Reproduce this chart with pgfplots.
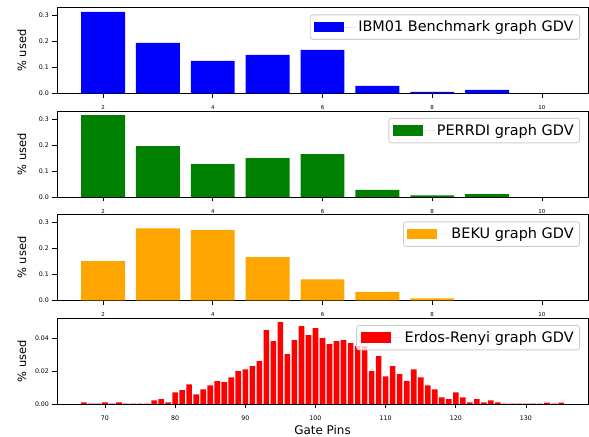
\documentclass[border=0pt]{standalone}
\usepackage{fontspec}
\setmainfont{DejaVu Sans}
\usepackage{pgfplots}
\pgfplotsset{compat=1.18}
\definecolor{mplorange}{HTML}{FFA500}
\definecolor{mplgreen}{HTML}{008000}
\pgfplotsset{
  panel/.style={
    scale only axis, width=531bp, height=86bp,
    anchor=south west,
    axis line style={line width=0.8bp},
    tick align=outside, xtick pos=bottom, ytick pos=left,
    major tick length=4.5bp,
    every tick/.style={line width=0.8bp, black},
    ymin=0,
    scaled y ticks=false, scaled x ticks=false,
    /pgf/number format/assume math mode=true,
    ylabel={\% used},
    ylabel style={at={(axis description cs:-0.066,0.5)}, anchor=center, rotate=0, font=\fontsize{11.5}{12}\selectfont},
    yticklabel style={font=\fontsize{6.3}{7}\selectfont},
    legend style={at={(1,1)}, anchor=north east, xshift=-8bp, yshift=-7bp,
      draw=black!20, line width=0.8bp, rounded corners=2.5bp, fill=white,
      fill opacity=0.8, text opacity=1, font=\fontsize{14.5}{16}\selectfont,
      inner xsep=4bp, inner ysep=4bp, nodes={inner sep=2bp}},
    legend cell align=left,
    legend image code/.code={\path[#1, fill opacity=1, sharp corners] (0bp,-5.2bp) rectangle (30bp,5.2bp);
      \path (0bp,0bp) -- (42bp,0bp);},
  },
  toppanel/.style={
    panel, xmin=1.16, xmax=10.84, ymax=0.331,
    xtick={2,4,6,8,10}, ytick={0,0.1,0.2,0.3},
    yticklabel style={/pgf/number format/.cd, fixed, fixed zerofill, precision=1},
    xticklabel style={font=\fontsize{5.5}{6}\selectfont, yshift=-4bp},
  },
}
\begin{document}
\begin{tikzpicture}
\begin{axis}[toppanel, at={(57bp,343.5bp)}]
\addplot[ybar, bar width=0.8, bar shift=0pt, fill=blue, draw=none] coordinates {
(2,0.314) (3,0.195) (4,0.126) (5,0.149) (6,0.168) (7,0.029) (8,0.006) (9,0.014)};
\legend{IBM01 Benchmark graph GDV}
\end{axis}
\begin{axis}[toppanel, at={(57bp,240bp)}]
\addplot[ybar, bar width=0.8, bar shift=0pt, fill=mplgreen, draw=none] coordinates {
(2,0.315) (3,0.196) (4,0.127) (5,0.150) (6,0.165) (7,0.027) (8,0.006) (9,0.011)};
\legend{PERRDI graph GDV}
\end{axis}
\begin{axis}[toppanel, at={(57bp,136.5bp)}]
\addplot[ybar, bar width=0.8, bar shift=0pt, fill=mplorange, draw=none] coordinates {
(2,0.152) (3,0.278) (4,0.271) (5,0.167) (6,0.081) (7,0.033) (8,0.008)};
\legend{BEKU graph GDV}
\end{axis}
\begin{axis}[panel, at={(57bp,33bp)}, xmin=63.16, xmax=138.84, ymax=0.0525,
  xtick={70,80,...,130}, ytick={0,0.02,0.04},
  yticklabel style={/pgf/number format/.cd, fixed, fixed zerofill, precision=2},
  xticklabel style={font=\fontsize{6.3}{7}\selectfont, yshift=-4bp},
  xlabel={Gate Pins},
  xlabel style={at={(axis description cs:0.5,-0.352)}, anchor=base, inner sep=0pt, font=\fontsize{12}{13}\selectfont}]
\addplot[ybar, bar width=0.8, bar shift=0pt, fill=red, draw=none] coordinates {
(67,0.001) (68,0.0003) (69,0.0003) (70,0.001) (71,0.0003) (72,0.001) (73,0.0002) (74,0.0002)
(75,0.0002) (76,0.0002) (77,0.0022) (78,0.0029) (79,0.001) (80,0.0071) (81,0.0084) (82,0.012)
(83,0.0059) (84,0.009) (85,0.0114) (86,0.0139) (87,0.0133) (88,0.0163) (89,0.020) (90,0.0212)
(91,0.0231) (92,0.0261) (93,0.0451) (94,0.0384) (95,0.050) (96,0.0304) (97,0.039) (98,0.0476)
(99,0.042) (100,0.0463) (101,0.0402) (102,0.0365) (103,0.0384) (104,0.039) (105,0.0371) (106,0.0353)
(107,0.0353) (108,0.020) (109,0.0292) (110,0.0169) (111,0.0231) (112,0.0182) (113,0.0139) (114,0.0212)
(115,0.0163) (116,0.0114) (117,0.009) (118,0.0041) (119,0.0029) (120,0.0071) (121,0.0041) (122,0.001)
(123,0.0029) (124,0.001) (125,0.0022) (126,0.001) (127,0.0002) (128,0.0002) (129,0.0002) (130,0.0002)
(131,0.0002) (132,0.0002) (133,0.0008) (134,0.0002) (135,0.0008)};
\legend{Erdos-Renyi graph GDV}
\end{axis}
\pgfresetboundingbox
\path[use as bounding box] (0,0) rectangle (589bp,437bp);
\end{tikzpicture}
\end{document}
